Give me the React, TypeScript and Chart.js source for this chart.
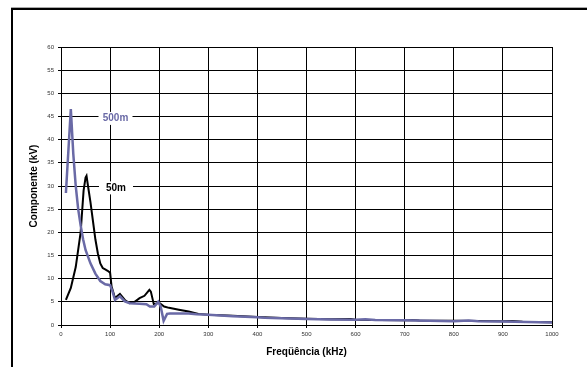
import React, { useEffect, useRef } from "react";
import { Chart, registerables } from "chart.js";

Chart.register(...registerables);

// ---- data ----
const freq50 = [10, 20, 30, 40, 46, 50, 52, 55, 60, 65, 70, 75, 80, 85, 90, 95, 100, 103, 110, 120, 130, 140, 150, 160, 170, 180, 183, 189, 200, 210, 220, 240, 260, 280, 300, 350, 400, 450, 500, 550, 590, 600, 650, 700, 715, 730, 800, 850, 900, 920, 940, 1000];
const kv50 = [5.4, 8, 12.5, 20, 29, 31.8, 32.2, 30, 26.5, 22.5, 18.5, 15.5, 13.3, 12.3, 12, 11.7, 11.3, 8.3, 5.8, 6.7, 5.4, 4.7, 5.0, 5.8, 6.3, 7.6, 7.2, 4.5, 4.8, 4.0, 3.7, 3.3, 2.9, 2.4, 2.2, 2.0, 1.7, 1.5, 1.35, 1.25, 1.3, 1.15, 1.1, 1.0, 1.1, 0.95, 0.9, 0.85, 0.8, 0.85, 0.7, 0.6];

const freq500 = [10, 20, 25, 30, 35, 40, 45, 50, 60, 70, 80, 90, 100, 105, 110, 120, 130, 140, 160, 174, 181, 190, 198, 203, 209, 216, 222, 260, 276, 300, 350, 400, 415, 430, 500, 550, 600, 620, 640, 700, 800, 830, 850, 900, 1000];
const kv500 = [28.5, 46.6, 37, 30, 25, 21.5, 18.5, 16.2, 13.3, 11.1, 9.5, 8.8, 8.6, 7.2, 5.4, 6.2, 5.1, 4.7, 4.6, 4.5, 4.0, 4.0, 5.0, 4.0, 0.9, 2.4, 2.5, 2.5, 2.3, 2.2, 1.9, 1.65, 1.55, 1.5, 1.3, 1.2, 1.15, 1.25, 1.1, 1.0, 0.8, 0.95, 0.8, 0.75, 0.55];

const seriesNames = ["50m", "500m"];
const xTitle = "Freqüência (kHz)";
const yTitle = "Componente (kV)";

const BLACK = "#000000";
const PURPLE = "#6a6aa6";
const FONT = '"Liberation Sans", Arial, sans-serif';

const toPoints = (xs: number[], ys: number[]) => xs.map((x, i) => ({ x, y: ys[i] }));

const frame = {
  id: "frame",
  beforeDraw(chart: any) {
    const ctx = chart.ctx;
    ctx.save();
    ctx.fillStyle = "#ffffff";
    ctx.fillRect(0, 0, chart.width, chart.height);
    ctx.fillStyle = "#aaaaaa";
    ctx.fillRect(11, 7, chart.width - 11, 1);
    ctx.fillStyle = "#000000";
    ctx.fillRect(11, 8, chart.width - 11, 2);
    ctx.fillRect(11, 8, 2, chart.height - 8);
    ctx.restore();
  },
};

const seriesLabels = {
  id: "seriesLabels",
  afterDraw(chart: any) {
    const { ctx, scales } = chart;
    const xs = scales.x;
    const ys = scales.y;
    const items = [
      { text: seriesNames[1], fx: 111, fy: 44.7, color: PURPLE },
      { text: seriesNames[0], fx: 112, fy: 29.7, color: BLACK },
    ];
    ctx.save();
    ctx.font = `bold 10px ${FONT}`;
    ctx.textAlign = "center";
    ctx.textBaseline = "middle";
    for (const it of items) {
      const px = xs.getPixelForValue(it.fx);
      const py = ys.getPixelForValue(it.fy);
      ctx.fillStyle = "#ffffff";
      ctx.fillRect(px - 17, py - 6, 34, 13);
      ctx.fillStyle = it.color;
      ctx.fillText(it.text, px, py + 0.5);
    }
    ctx.restore();
  },
};

export default function App() {
  const ref = useRef<HTMLCanvasElement | null>(null);

  useEffect(() => {
    if (!ref.current) return;
    const chart = new Chart(ref.current, {
      type: "line",
      data: {
        datasets: [
          {
            label: seriesNames[1],
            data: toPoints(freq500, kv500),
            borderColor: PURPLE,
            backgroundColor: PURPLE,
            borderWidth: 2.5,
            pointRadius: 0,
            tension: 0,
            order: 1,
          },
          {
            label: seriesNames[0],
            data: toPoints(freq50, kv50),
            borderColor: BLACK,
            backgroundColor: BLACK,
            borderWidth: 2,
            pointRadius: 0,
            tension: 0,
            order: 2,
          },
        ],
      },
      options: {
        animation: false,
        responsive: false,
        devicePixelRatio: 1,
        layout: { padding: { top: 47, right: 35, left: 0, bottom: 0 } },
        plugins: {
          legend: { display: false },
          tooltip: { enabled: false },
        },
        scales: {
          x: {
            type: "linear",
            min: 0,
            max: 1000,
            afterFit: (s: any) => {
              s.height = 42;
            },
            ticks: {
              stepSize: 100,
              padding: 3,
              color: "#333333",
              font: { size: 6, family: FONT },
              maxRotation: 0,
              callback: (v: any) => String(v),
            },
            grid: { color: "#000000", lineWidth: 1, tickLength: 3 },
            border: { color: "#000000", width: 1 },
            title: {
              display: true,
              text: xTitle,
              color: "#000000",
              font: { size: 10, weight: "bold", family: FONT },
              padding: { top: 0, bottom: 9 },
            },
          },
          y: {
            min: 0,
            max: 60,
            afterFit: (s: any) => {
              s.width = 61;
            },
            ticks: {
              stepSize: 5,
              padding: 4,
              color: "#333333",
              font: { size: 6, family: FONT },
              callback: (v: any) => String(v),
            },
            grid: { color: "#000000", lineWidth: 1, tickLength: 3 },
            border: { color: "#000000", width: 1 },
            title: {
              display: true,
              text: yTitle,
              color: "#000000",
              font: { size: 10, weight: "bold", family: FONT },
              padding: { top: 28, bottom: 0 },
            },
          },
        },
      },
      plugins: [frame, seriesLabels],
    });
    return () => chart.destroy();
  }, []);

  return (
    <div style={{ position: "absolute", left: 0, top: 0, width: 587, height: 367, background: "#fff" }}>
      <canvas ref={ref} width={587} height={367} style={{ display: "block", width: 587, height: 367 }} />
    </div>
  );
}
